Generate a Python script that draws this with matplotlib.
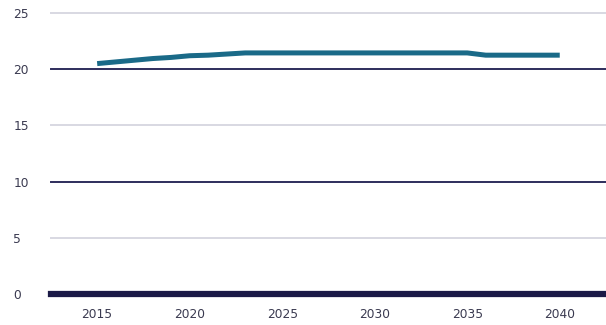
import matplotlib
matplotlib.use("Agg")
import matplotlib.pyplot as plt

years = list(range(2015, 2041))
values = [20.5, 20.65, 20.8, 20.95, 21.05, 21.2, 21.25, 21.35, 21.45, 21.45,
          21.45, 21.45, 21.45, 21.45, 21.45, 21.45, 21.45, 21.45, 21.45, 21.45,
          21.45, 21.25, 21.25, 21.25, 21.25, 21.25]
xticks = [2015, 2020, 2025, 2030, 2035, 2040]
yticks = [0, 5, 10, 15, 20, 25]

fig = plt.figure(figsize=(6.06, 3.25), dpi=100)
ax = fig.add_axes([0.084, 0.095, 0.916, 0.865])

# gridlines: 10 and 20 dark, the rest light
for y in yticks[1:]:
    if y in (10, 20):
        ax.axhline(y, color="#2e2d5c", lw=1.4, zorder=1, clip_on=False)
    else:
        ax.axhline(y, color="#d8d8e2", lw=1.4, zorder=1, clip_on=False)
ax.axhline(0, color="#1b1a47", lw=4.5, zorder=3, clip_on=False)

ax.plot(years, values, color="#1a6a88", lw=3.6, solid_capstyle="butt", zorder=2)

ax.set_xlim(2012.5, 2042.5)
ax.set_ylim(0, 25)
ax.set_xticks(xticks)
ax.set_yticks(yticks)
for s in ax.spines.values():
    s.set_visible(False)
ax.tick_params(axis="both", length=0, labelsize=8.8, labelcolor="#3a3a50")
ax.tick_params(axis="x", pad=10)
ax.tick_params(axis="y", pad=27)
for lab in ax.get_yticklabels():
    lab.set_ha("left")

fig.savefig("out.png", dpi=100)
